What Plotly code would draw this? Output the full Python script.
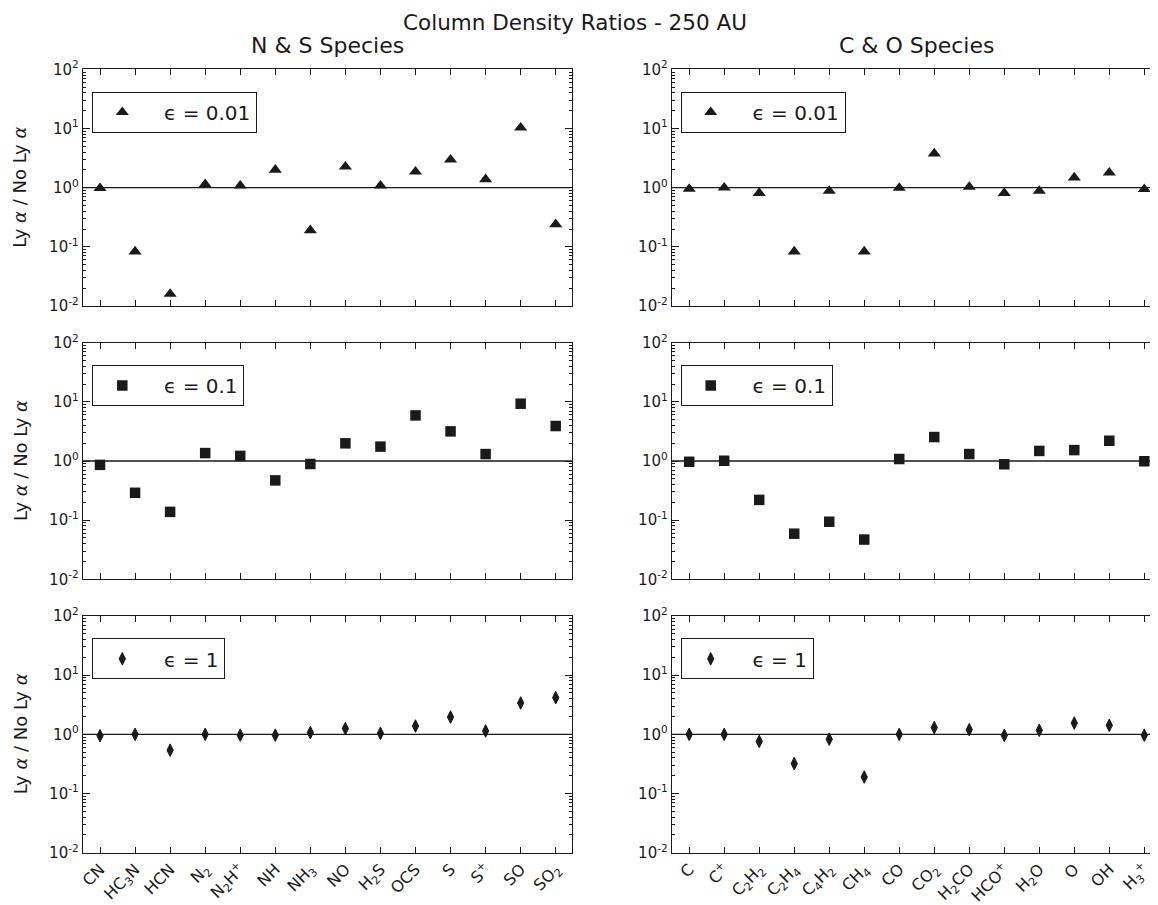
import plotly.graph_objects as go

# ---------------- data ----------------
ns_species = ["CN", "HC<sub>3</sub>N", "HCN", "N<sub>2</sub>", "N<sub>2</sub>H<sup>+</sup>", "NH",
              "NH<sub>3</sub>", "NO", "H<sub>2</sub>S", "OCS", "S", "S<sup>+</sup>", "SO", "SO<sub>2</sub>"]
co_species = ["C", "C<sup>+</sup>", "C<sub>2</sub>H<sub>2</sub>", "C<sub>2</sub>H<sub>4</sub>",
              "C<sub>4</sub>H<sub>2</sub>", "CH<sub>4</sub>", "CO", "CO<sub>2</sub>", "H<sub>2</sub>CO",
              "HCO<sup>+</sup>", "H<sub>2</sub>O", "O", "OH", "H<sub>3</sub><sup>+</sup>"]

ns_eps001 = [0.98, 0.083, 0.016, 1.14, 1.08, 2.0, 0.19, 2.26, 1.08, 1.86, 2.97, 1.38, 10.3, 0.24]
ns_eps01 = [0.86, 0.29, 0.138, 1.36, 1.22, 0.47, 0.89, 1.99, 1.75, 5.9, 3.17, 1.31, 9.3, 3.9]
ns_eps1 = [0.95, 1.0, 0.54, 1.0, 0.97, 0.97, 1.07, 1.25, 1.04, 1.38, 1.96, 1.14, 3.39, 4.17]

co_eps001 = [0.95, 1.0, 0.81, 0.083, 0.88, 0.083, 0.99, 3.76, 1.03, 0.81, 0.88, 1.48, 1.79, 0.94]
co_eps01 = [0.97, 1.01, 0.22, 0.059, 0.094, 0.047, 1.08, 2.54, 1.31, 0.88, 1.48, 1.53, 2.2, 0.99]
co_eps1 = [1.0, 1.0, 0.76, 0.32, 0.83, 0.19, 1.0, 1.30, 1.2, 0.96, 1.17, 1.55, 1.42, 0.97]

eps_labels = ["ϵ = 0.01", "ϵ = 0.1", "ϵ = 1"]
y_tickvals = [0.01, 0.1, 1, 10, 100]
y_ticktext = ["10<sup>-2</sup>", "10<sup>-1</sup>", "10<sup>0</sup>", "10<sup>1</sup>", "10<sup>2</sup>"]

# ---------------- layout geometry (screen pixels) ----------------
W, H = 1158, 905
OFF = 8  # page body margin
FONT = "DejaVu Sans"
INK = "#1a1a1a"
symbols = ["triangle-up", "square", "diamond-tall"]
sizes = [11.5, 10.5, 9]
mline = [0, 0, 1]


def px_x(sx):
    return (sx - OFF) / W


def px_y(sy):
    return 1 - (sy - OFF) / H


col_x = [(82.7, 571.7), (671.7, 1161.8)]
col_range = [[-0.494, 13.456], [-0.5, 13.5]]
row_y = [(69.3, 306.0), (342.7, 579.3), (616.0, 852.7)]
legend_tops = [91.7, 365.0, 638.3]
legend_lefts = [92.3, 680.7]

data = [[ns_eps001, co_eps001], [ns_eps01, co_eps01], [ns_eps1, co_eps1]]
cats = [ns_species, co_species]

fig = go.Figure()
layout = dict(
    template="none",
    width=W, height=H,
    margin=dict(l=0, r=0, t=0, b=0, pad=0, autoexpand=False),
    paper_bgcolor="white", plot_bgcolor="white",
    font=dict(family=FONT, color=INK, size=16),
    showlegend=True,
)
shapes = []
annotations = []

for r in range(3):
    for c in range(2):
        k = r * 2 + c + 1
        xa = "x" if k == 1 else f"x{k}"
        ya = "y" if k == 1 else f"y{k}"
        lg = "legend" if k == 1 else f"legend{k}"
        fig.add_trace(go.Scatter(
            x=cats[c], y=data[r][c], mode="markers",
            marker=dict(symbol=symbols[r], size=sizes[r], color=INK,
                        line=dict(width=mline[r], color=INK)),
            name="\u00a0\u00a0" + eps_labels[r], xaxis=xa, yaxis=ya, legend=lg, showlegend=True,
            cliponaxis=False,
        ))
        x0, x1 = col_x[c]
        y0, y1 = row_y[r]
        layout["xaxis" if k == 1 else f"xaxis{k}"] = dict(
            domain=[px_x(x0), min(1.0, px_x(x1))], anchor=ya, type="category",
            categoryorder="array", categoryarray=cats[c],
            range=col_range[c], automargin=False,
            showline=True, linecolor=INK, linewidth=1, mirror="allticks",
            ticks="inside", ticklen=6, tickcolor=INK, tickwidth=1,
            showgrid=False, zeroline=False,
            showticklabels=(r == 2), tickangle=-45,
            tickfont=dict(size=16, family=FONT, color=INK),
        )
        layout["yaxis" if k == 1 else f"yaxis{k}"] = dict(
            domain=[px_y(y1), px_y(y0)], anchor=xa, type="log",
            range=[-2, 2], automargin=False,
            tickmode="array", tickvals=y_tickvals, ticktext=y_ticktext,
            showline=True, linecolor=INK, linewidth=1, mirror="allticks",
            ticks="inside", ticklen=7, tickcolor=INK, tickwidth=1,
            minor=dict(ticks="inside", ticklen=3, tickcolor=INK, tickwidth=1,
                       dtick="D1", showgrid=False),
            showgrid=False, zeroline=False,
            tickfont=dict(size=15, family=FONT, color=INK),
        )
        shapes.append(dict(
            type="line", xref=f"{xa} domain", x0=0, x1=1,
            yref=ya, y0=1, y1=1,
            line=dict(color=INK, width=1.3), layer="above",
        ))
        layout[lg] = dict(
            x=px_x(legend_lefts[c]), y=px_y(legend_tops[r]),
            xanchor="left", yanchor="top",
            bordercolor=INK, borderwidth=1, bgcolor="white",
            font=dict(size=20, family=FONT, color=INK),
            itemwidth=48, itemclick=False, itemdoubleclick=False,
        )
    # y-axis titles
    annotations.append(dict(
        text="Ly <i>α</i> / No Ly <i>α</i>", xref="paper", yref="paper",
        x=px_x(20), y=px_y((row_y[r][0] + row_y[r][1]) / 2),
        xanchor="center", yanchor="middle", textangle=-90, showarrow=False,
        font=dict(size=18, family=FONT, color=INK),
    ))

annotations.append(dict(
    text="Column Density Ratios - 250 AU", xref="paper", yref="paper",
    x=px_x(575), y=px_y(22), xanchor="center", yanchor="middle", showarrow=False,
    font=dict(size=21.5, family=FONT, color=INK),
))
annotations.append(dict(
    text="N &amp; S Species", xref="paper", yref="paper",
    x=px_x(327.5), y=px_y(46), xanchor="center", yanchor="middle",
    showarrow=False, font=dict(size=22, family=FONT, color=INK),
))
annotations.append(dict(
    text="C &amp; O Species", xref="paper", yref="paper",
    x=px_x(916), y=px_y(46), xanchor="center", yanchor="middle",
    showarrow=False, font=dict(size=22, family=FONT, color=INK),
))

layout["shapes"] = shapes
layout["annotations"] = annotations
fig.update_layout(**layout)
fig.write_html("out.html")
